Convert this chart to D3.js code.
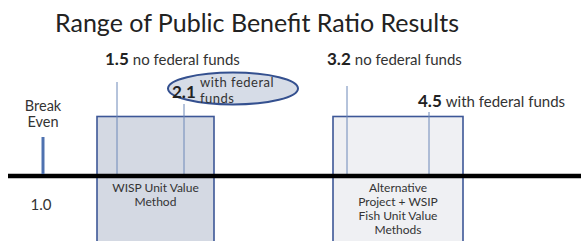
<!DOCTYPE html>
<html><head><meta charset="utf-8">
<script src="https://cdn.jsdelivr.net/npm/d3@7"></script>
<style>
html,body{margin:0;padding:0;background:#fff;}
svg{display:block;font-family:Lato,"Open Sans",sans-serif;}
</style></head>
<body>
<svg id="chart" width="581" height="241"></svg>
<script>
// ---- data ----
const titleText = "Range of Public Benefit Ratio Results";
const breakEvenValue = 1.0;
const breakEvenLabel = ["Break", "Even"];
const ratioValues = [1.5, 2.1, 3.2, 4.5];
const fundingLabels = ["no federal funds", "with federal funds", "no federal funds", "with federal funds"];
const methodNames = ["WISP Unit Value Method", "Alternative Project + WSIP Fish Unit Value Methods"];
const methodLow = [1.5, 3.2];
const methodHigh = [2.1, 4.5];
const methodLines = [["WISP Unit Value", "Method"], ["Alternative", "Project + WSIP", "Fish Unit Value", "Methods"]];

// ---- layout ----
const svg = d3.select("#chart");
const axisY = 176;
const x = d3.scaleLinear()
  .domain([breakEvenValue, ...ratioValues])
  .range([43, 117, 184, 347, 429]);
const boxPad = [{l: 20, r: 30}, {l: 14, r: 34}];
const boxTop = 116.5;
const boxFills = ["#d4d9e3", "#eff0f3"];
const labelLayout = [
  {dx: -12, y: 65, lineTop: 82},
  {dx: 0, y: 0, lineTop: 104},
  {dx: -20, y: 65, lineTop: 86},
  {dx: -11, y: 107, lineTop: 112}
];

// title
svg.append("text").attr("x", 257).attr("y", 32).attr("text-anchor", "middle")
  .attr("font-size", 25).attr("fill", "#222").text(titleText);

// boxes
methodNames.forEach((name, i) => {
  const x0 = x(methodLow[i]) - boxPad[i].l, x1 = x(methodHigh[i]) + boxPad[i].r;
  svg.append("rect").attr("x", x0).attr("y", boxTop).attr("width", x1 - x0).attr("height", 241 - boxTop + 5)
    .attr("fill", boxFills[i]).attr("stroke", "#3d5797").attr("stroke-width", 1.6);
  const cx = (x0 + x1) / 2;
  const t = svg.append("text").attr("text-anchor", "middle").attr("font-size", 12).attr("fill", "#333");
  methodLines[i].forEach((ln, j) => {
    t.append("tspan").attr("x", cx).attr("y", 192 + j * 14).text(ln);
  });
});

// value lines
ratioValues.forEach((v, i) => {
  svg.append("line").attr("x1", x(v)).attr("x2", x(v))
    .attr("y1", labelLayout[i].lineTop).attr("y2", axisY)
    .attr("stroke", "#6d88b8").attr("stroke-width", 1);
});

// axis line
svg.append("line").attr("x1", 8).attr("x2", 581).attr("y1", axisY).attr("y2", axisY)
  .attr("stroke", "#000").attr("stroke-width", 4.5);

// break even
svg.append("line").attr("x1", x(breakEvenValue)).attr("x2", x(breakEvenValue))
  .attr("y1", 137).attr("y2", axisY - 2).attr("stroke", "#4f72b0").attr("stroke-width", 3);
const be = svg.append("text").attr("text-anchor", "middle").attr("font-size", 14.5).attr("fill", "#333");
breakEvenLabel.forEach((s, j) => {
  be.append("tspan").attr("x", x(breakEvenValue)).attr("y", 111 + j * 16).text(s);
});
svg.append("text").attr("x", x(breakEvenValue) - 2).attr("y", 210).attr("text-anchor", "middle")
  .attr("font-size", 15).attr("fill", "#333").text(d3.format(".1f")(breakEvenValue));

// value labels
ratioValues.forEach((v, i) => {
  if (i === 1) return;
  const t = svg.append("text").attr("x", x(v) + labelLayout[i].dx).attr("y", labelLayout[i].y).attr("fill", "#333");
  t.append("tspan").attr("font-weight", "bold").attr("font-size", 17).attr("fill", "#222").text(d3.format(".1f")(v));
  t.append("tspan").attr("dx", 4).attr("font-size", 15).text(fundingLabels[i]);
});

// highlighted 2.1 label in ellipse
svg.append("ellipse").attr("cx", 233).attr("cy", 88.5).attr("rx", 65).attr("ry", 16)
  .attr("fill", "#d6dce7").attr("stroke", "#34508f").attr("stroke-width", 2);
const fw = fundingLabels[1].split(" ");
const hl = svg.append("text").attr("fill", "#333");
hl.append("tspan").attr("x", 172).attr("y", 98).attr("font-weight", "bold").attr("font-size", 17)
  .attr("fill", "#222").text(d3.format(".1f")(ratioValues[1]));
hl.append("tspan").attr("x", 200).attr("y", 87).attr("font-size", 13).attr("letter-spacing", 0.5)
  .text(fw.slice(0, 2).join(" "));
hl.append("tspan").attr("x", 200).attr("y", 102.6).attr("font-size", 13).attr("letter-spacing", 0.5)
  .text(fw.slice(2).join(" "));
</script>
</body></html>
